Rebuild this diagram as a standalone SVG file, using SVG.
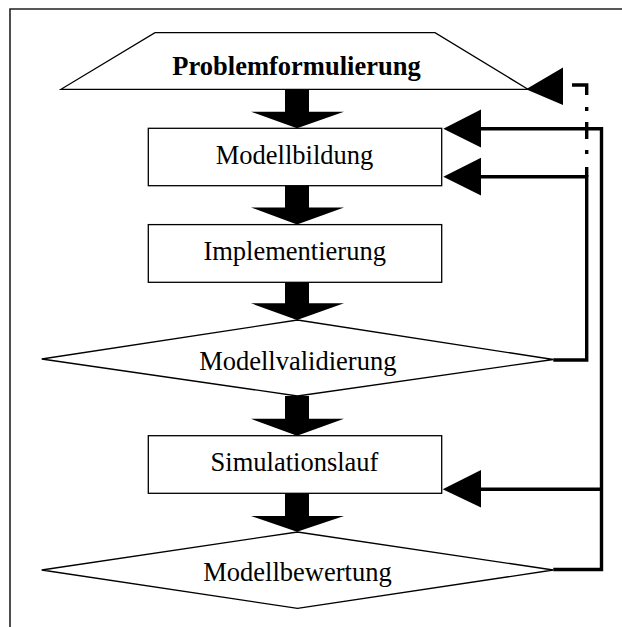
<svg xmlns="http://www.w3.org/2000/svg" width="622" height="627" viewBox="0 0 622 627">
  <style>
    .node { fill: #ffffff; stroke: #000000; stroke-width: 1.3; }
    .label { font-family: "Liberation Serif", "Times New Roman", serif; font-size: 26.5px; fill: #000000; text-anchor: middle; }
    .bold { font-weight: bold; }
    .flow { fill: #000000; stroke: none; }
    .head { fill: #000000; stroke: none; }
    .loop { fill: none; stroke: #000000; stroke-width: 3.4; stroke-linejoin: miter; stroke-linecap: butt; }
    .frame { fill: none; stroke: #222222; stroke-width: 1.6; }
  </style>

  <rect x="0" y="0" width="622" height="627" fill="#ffffff"/>

  <!-- outer frame, open towards right and bottom -->
  <path class="frame" d="M 10,627 V 9 H 622"/>

  <g id="problemformulierung">
    <polygon class="node" points="155,32.7 435,32.7 528,89.3 61,89.3"/>
    <text class="label bold" x="296.5" y="74.5">Problemformulierung</text>
  </g>

  <g id="modellbildung">
    <rect class="node" x="148.3" y="128.3" width="293.4" height="57.4"/>
    <text class="label" x="294.5" y="163.6">Modellbildung</text>
  </g>

  <g id="implementierung">
    <rect class="node" x="148.3" y="224.6" width="293.4" height="57.7"/>
    <text class="label" x="294.7" y="260">Implementierung</text>
  </g>

  <g id="modellvalidierung">
    <polygon class="node" points="41.7,359 297.5,320 553.3,359.5 297.5,396"/>
    <text class="label" x="297.8" y="369.5">Modellvalidierung</text>
  </g>

  <g id="simulationslauf">
    <rect class="node" x="148.3" y="435.7" width="293.4" height="57.6"/>
    <text class="label" x="294.5" y="470.8">Simulationslauf</text>
  </g>

  <g id="modellbewertung">
    <polygon class="node" points="41.7,570 297.5,532 553.3,570 297.5,608.3"/>
    <text class="label" x="297.5" y="581">Modellbewertung</text>
  </g>

  <g id="connectors">
    <!-- main flow: block arrows -->
    <polygon class="flow" points="285,89.3 309,89.3 309,111.7 344,111.7 297,128.3 251,111.7 285,111.7"/>
    <polygon class="flow" points="285,185.7 309,185.7 309,207.5 344,207.5 297,224.6 251,207.5 285,207.5"/>
    <polygon class="flow" points="285,282.3 309,282.3 309,303.3 344,303.3 297,320 251,303.3 285,303.3"/>
    <polygon class="flow" points="285,396 309,396 309,418.8 344,418.8 297,435.7 251,418.8 285,418.8"/>
    <polygon class="flow" points="285,493.3 309,493.3 309,516 344,516 297,531.8 251,516 285,516"/>

    <!-- feedback loops -->
    <path class="loop" d="M 553.3,569.5 H 601.5 V 128.7 H 479"/>
    <path class="loop" d="M 601.5,489.3 H 479"/>
    <path class="loop" d="M 553.3,360 H 586.7 V 176.7 H 479"/>
    <path class="loop" d="M 572,85 H 586.7 V 176.7" stroke-dasharray="24.7 12 4 11 17 11 4 13 100"/>

    <!-- feedback arrowheads -->
    <polygon class="head" points="526,89.3 563,67.5 563,105"/>
    <polygon class="head" points="443.3,128.7 481,109.5 481,147.5"/>
    <polygon class="head" points="443.3,176.7 481,157.7 481,195.5"/>
    <polygon class="head" points="442.7,489.3 481,470 481,507.5"/>
  </g>
</svg>
